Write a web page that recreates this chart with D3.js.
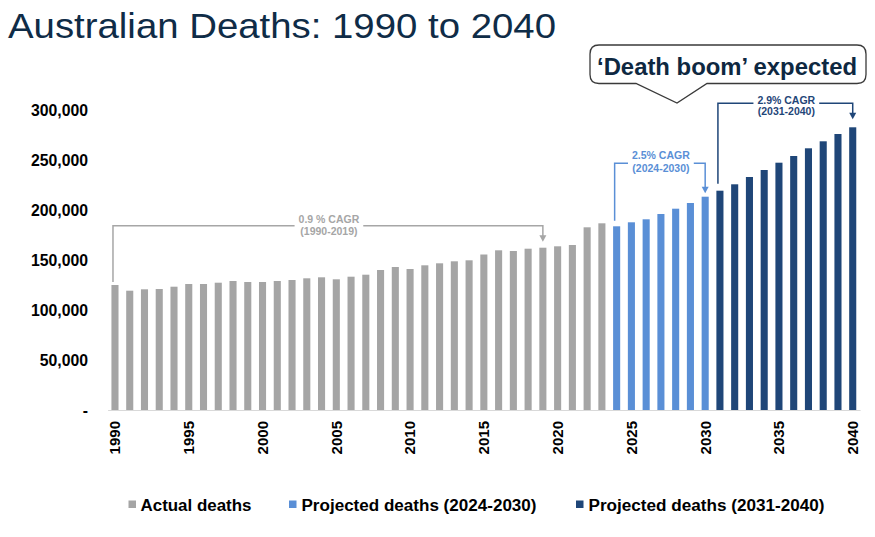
<!DOCTYPE html>
<html><head><meta charset="utf-8">
<script src="https://cdn.jsdelivr.net/npm/d3@7"></script>
<style>body{margin:0;background:#fff}svg{display:block;font-family:"Liberation Sans",Arial,sans-serif}</style>
</head><body><svg id="chart" width="875" height="537"></svg>
<script>
// ---- data ----
const actualYears = [1990,1991,1992,1993,1994,1995,1996,1997,1998,1999,2000,2001,2002,2003,2004,2005,2006,2007,2008,2009,2010,2011,2012,2013,2014,2015,2016,2017,2018,2019,2020,2021,2022,2023];
const actualDeaths = [125000,119300,120700,121000,123300,126000,126000,127300,129000,128000,128000,129000,130000,131700,132700,130700,133300,135300,140000,143000,141000,144700,146700,148700,149700,155500,159700,159000,161300,162300,163700,165000,182700,186700];
const proj1Years = [2024,2025,2026,2027,2028,2029,2030];
const proj1Deaths = [183700,187700,190700,196000,201300,207000,213300];
const proj2Years = [2031,2032,2033,2034,2035,2036,2037,2038,2039,2040];
const proj2Deaths = [219300,225700,233000,240000,247300,254000,261700,268700,276000,282700];
const xTickYears = [1990,1995,2000,2005,2010,2015,2020,2025,2030,2035,2040];
const yTickValues = [0,50000,100000,150000,200000,250000,300000];
const seriesNames = ["Actual deaths","Projected deaths (2024-2030)","Projected deaths (2031-2040)"];
const cagrLabels = [["0.9 % CAGR","(1990-2019)"],["2.5% CAGR","(2024-2030)"],["2.9% CAGR","(2031-2040)"]];
const cagrRanges = [[1990,2019],[2024,2030],[2031,2040]];
const titleText = "Australian Deaths: 1990 to 2040";
const calloutText = "\u2018Death boom\u2019 expected";

// ---- styles ----
const colors = ["#a5a5a5","#5a8fd6","#1f4678"];
const annColors = ["#a6a6a6","#5a8fd6","#1f4678"];

const svg = d3.select("#chart");
const allYears = actualYears.concat(proj1Years, proj2Years);
const lookup = new Map();
actualYears.forEach((yr,i)=>lookup.set(yr, actualDeaths[i]));
proj1Years.forEach((yr,i)=>lookup.set(yr, proj1Deaths[i]));
proj2Years.forEach((yr,i)=>lookup.set(yr, proj2Deaths[i]));

const x = d3.scaleBand().domain(allYears).range([107.6, 860.1]).paddingInner(0.52).paddingOuter(0.26);
const y = d3.scaleLinear().domain([0,300000]).range([410,110]);
const cx = yr => x(yr) + x.bandwidth()/2;

// title
svg.append("text").attr("x",8).attr("y",37.5)
  .attr("font-size",35).attr("fill","#0f2c47")
  .attr("textLength",548).attr("lengthAdjust","spacingAndGlyphs")
  .text(titleText);

// bars
const groups = [
  {years: actualYears, vals: actualDeaths, color: colors[0]},
  {years: proj1Years, vals: proj1Deaths, color: colors[1]},
  {years: proj2Years, vals: proj2Deaths, color: colors[2]}
];
groups.forEach(g=>{
  svg.append("g").selectAll("rect").data(g.years).join("rect")
    .attr("x", d=>x(d)).attr("width", x.bandwidth())
    .attr("y", (d,i)=>y(g.vals[i])).attr("height",(d,i)=>y(0)-y(g.vals[i]))
    .attr("fill", g.color);
});

// x axis
const xAxis = svg.append("g").attr("transform","translate(0,410)")
  .call(d3.axisBottom(x).tickValues(xTickYears).tickSize(0).tickSizeOuter(0));
xAxis.select(".domain").attr("stroke","#d9d9d9").attr("stroke-width",1.2);
xAxis.selectAll("text")
  .attr("font-family",'"Liberation Sans",Arial,sans-serif')
  .attr("font-size",15).attr("font-weight","bold").attr("fill","#000")
  .attr("transform","rotate(-90)").attr("text-anchor","end")
  .attr("x",-11).attr("y",0).attr("dy","0.36em");

// y axis
const yAxis = svg.append("g").attr("transform","translate(88,0)")
  .call(d3.axisLeft(y).tickValues(yTickValues).tickSize(0).tickPadding(0)
    .tickFormat(d=> d===0 ? "-" : d3.format(",")(d)));
yAxis.select(".domain").remove();
yAxis.selectAll("text")
  .attr("font-family",'"Liberation Sans",Arial,sans-serif')
  .attr("font-size",15.8).attr("font-weight","bold").attr("fill","#000");

// CAGR annotations
const annLayout = [
  {level: 184300, startGap: 3, endGap: 6, d1: -2.5, d2: 8.8},
  {level: 246700, startGap: 5.5, endGap: 3.4, d1: -4, d2: 8.4},
  {level: 306700, startGap: 7, endGap: 8, d1: 0.7, d2: 12}
];
cagrRanges.forEach((r,i)=>{
  const L = annLayout[i], col = annColors[i];
  const x1 = cx(r[0]) - 2, x2 = cx(r[1]);
  const yl = y(L.level);
  const xm = (cx(r[0]) + cx(r[1]))/2;
  const g = svg.append("g");
  const t1 = g.append("text").attr("x",xm).attr("y",yl+L.d1).attr("text-anchor","middle")
    .attr("font-size",10.5).attr("font-weight","bold").attr("fill",col).text(cagrLabels[i][0]);
  const t2 = g.append("text").attr("x",xm).attr("y",yl+L.d2).attr("text-anchor","middle")
    .attr("font-size",10.5).attr("font-weight","bold").attr("fill",col).text(cagrLabels[i][1]);
  const hw = Math.max(t1.node().getComputedTextLength(), t2.node().getComputedTextLength())/2;
  const y1 = y(lookup.get(r[0])) - L.startGap;
  const tip = y(lookup.get(r[1])) - L.endGap;
  g.append("path").attr("fill","none").attr("stroke",col).attr("stroke-width",1.5)
    .attr("d",`M${x1},${y1}V${yl}H${xm-hw-4}M${xm+hw+4},${yl}H${x2}V${tip-5}`);
  g.append("path").attr("fill",col)
    .attr("d",`M${x2-3.5},${tip-6.5}L${x2+3.5},${tip-6.5}L${x2},${tip}Z`);
});

// callout
const bx0=590, bx1=866, by0=45, by1=83.5, r=9, px0=636, px1=707, ptx=677, pty=103;
svg.append("path").attr("fill","#fff").attr("stroke","#3a3a3a").attr("stroke-width",1.3)
  .attr("d",`M${bx0+r},${by0}H${bx1-r}Q${bx1},${by0} ${bx1},${by0+r}V${by1-r}Q${bx1},${by1} ${bx1-r},${by1}H${px1}L${ptx},${pty}L${px0},${by1}H${bx0+r}Q${bx0},${by1} ${bx0},${by1-r}V${by0+r}Q${bx0},${by0} ${bx0+r},${by0}Z`);
svg.append("text").attr("x",597).attr("y",75).attr("font-size",23.3).attr("font-weight","bold")
  .attr("fill","#0e2841").attr("textLength",260).attr("lengthAdjust","spacingAndGlyphs")
  .text(calloutText);

// legend
const legPos = [{sx:128.5, tx:140.5, w:111},{sx:289, tx:301.5, w:235},{sx:576, tx:588.5, w:236}];
seriesNames.forEach((n,i)=>{
  const p = legPos[i];
  svg.append("rect").attr("x",p.sx).attr("y",500.5).attr("width",7.5).attr("height",7.5).attr("fill",colors[i]);
  svg.append("text").attr("x",p.tx).attr("y",510.5).attr("font-size",15.8).attr("font-weight","bold")
    .attr("fill","#000").attr("textLength",p.w).attr("lengthAdjust","spacingAndGlyphs").text(n);
});
</script></body></html>
